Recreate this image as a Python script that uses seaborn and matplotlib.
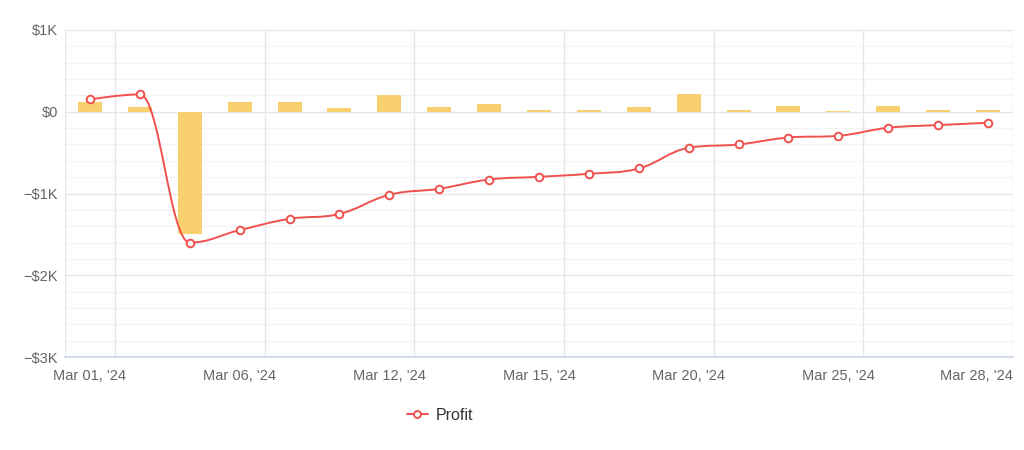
import numpy as np
import pandas as pd
import matplotlib
matplotlib.use("Agg")
import matplotlib.pyplot as plt
from matplotlib.path import Path
from matplotlib.patches import PathPatch
from matplotlib.lines import Line2D
from matplotlib.transforms import ScaledTranslation
import seaborn as sns

# ---- data ----
day_index = list(range(19))
daily_profit = [120, 55, -1500, 120, 120, 45, 205, 57, 94, 25, 25, 57, 215, 25, 73, 12, 73, 25, 25]
cumulative_profit = [150, 212, -1600, -1448, -1310, -1250, -1016, -942, -829, -796, -759, -694,
                     -441, -400, -315, -294, -196, -163, -135]
tick_labels = ["Mar 01, '24", "Mar 06, '24", "Mar 12, '24", "Mar 15, '24",
               "Mar 20, '24", "Mar 25, '24", "Mar 28, '24"]
y_ticks = [1000, 0, -1000, -2000, -3000]
y_tick_labels = ["$1K", "$0", "\u2212$1K", "\u2212$2K", "\u2212$3K"]

BAR_COLOR = "#F8D16E"
LINE_COLOR = "#F0504E"

sns.set_style("white")
plt.rcParams["font.family"] = ["Liberation Sans", "DejaVu Sans"]

fig = plt.figure(figsize=(10.24, 4.5), dpi=100)
ax_w_in = 948 / 100
ax = fig.add_axes([65 / 1024, 93 / 450, 948 / 1024, 327 / 450])

df = pd.DataFrame({"day": day_index, "daily": daily_profit, "cum": cumulative_profit})
sns.barplot(data=df, x="day", y="daily", color=BAR_COLOR, width=0.48, saturation=1,
            ax=ax, zorder=2)
for p in ax.patches:
    p.set_edgecolor("none")


def spline_path(xs, ys, smoothing=1.5):
    n = len(xs)
    lc = [(xs[i], ys[i]) for i in range(n)]
    rc = [(xs[i], ys[i]) for i in range(n)]
    denom = smoothing + 1
    for i in range(1, n - 1):
        px, py = xs[i], ys[i]
        lx, ly = xs[i - 1], ys[i - 1]
        nx, ny = xs[i + 1], ys[i + 1]
        lcx = (smoothing * px + lx) / denom
        lcy = (smoothing * py + ly) / denom
        rcx = (smoothing * px + nx) / denom
        rcy = (smoothing * py + ny) / denom
        corr = 0
        if rcx != lcx:
            corr = (rcy - lcy) * (rcx - px) / (rcx - lcx) + py - rcy
        lcy += corr
        rcy += corr
        if lcy > ly and lcy > py:
            lcy = max(ly, py)
            rcy = 2 * py - lcy
        elif lcy < ly and lcy < py:
            lcy = min(ly, py)
            rcy = 2 * py - lcy
        if rcy > ny and rcy > py:
            rcy = max(ny, py)
            lcy = 2 * py - rcy
        elif rcy < ny and rcy < py:
            rcy = min(ny, py)
            lcy = 2 * py - rcy
        lc[i] = (lcx, lcy)
        rc[i] = (rcx, rcy)
    verts = [(xs[0], ys[0])]
    codes = [Path.MOVETO]
    for i in range(1, n):
        verts += [rc[i - 1], lc[i], (xs[i], ys[i])]
        codes += [Path.CURVE4] * 3
    return Path(verts, codes)


path = spline_path(df["day"].tolist(), df["cum"].tolist())
ax.add_patch(PathPatch(path, facecolor="none", edgecolor=LINE_COLOR, lw=1.4, zorder=3))
sns.scatterplot(data=df, x="day", y="cum", ax=ax, s=30, marker="o", facecolor="white",
                edgecolor=LINE_COLOR, linewidth=1.4, zorder=4, legend=False)

n_days = len(day_index)
ax.set_xlim(-0.5, n_days - 0.5)
ax.set_ylim(-3000, 1000)
ax.set_xlabel("")
ax.set_ylabel("")

# grid
for yv in np.arange(-3000, 1001, 200):
    major = (yv % 1000 == 0)
    ax.axhline(yv, color="#e6e6e6" if major else "#f3f3f3", lw=1, zorder=0)
tick_pos = list(range(0, n_days, 3))
for xv in [-0.5] + [t + 0.5 for t in tick_pos]:
    ax.axvline(xv, color="#e6e6e6", lw=1, zorder=0)

ax.set_xticks(tick_pos)
ax.set_xticklabels(tick_labels)
ax.set_yticks(y_ticks)
ax.set_yticklabels(y_tick_labels)
ax.tick_params(axis="both", length=0, labelsize=10.5, colors="#666666")
ax.tick_params(axis="x", pad=9)
ax.tick_params(axis="y", pad=5)

last = ax.get_xticklabels()[-1]
last.set_horizontalalignment("right")
last.set_transform(last.get_transform() +
                   ScaledTranslation(0.5 * ax_w_in / n_days, 0, fig.dpi_scale_trans))

for s in ["top", "right", "left"]:
    ax.spines[s].set_visible(False)
ax.spines["bottom"].set_color("#ccd6eb")
ax.spines["bottom"].set_linewidth(1.2)

handle = Line2D([0], [0], color=LINE_COLOR, lw=1.4, marker="o", markersize=5,
                markerfacecolor="white", markeredgecolor=LINE_COLOR, markeredgewidth=1.4)
fig.legend([handle], ["Profit"], loc="center", bbox_to_anchor=(440 / 1024, 1 - 415 / 450),
           frameon=False, fontsize=11.5, handlelength=1.3, handletextpad=0.5,
           labelcolor="#333333")

fig.savefig("out.png", dpi=100)
